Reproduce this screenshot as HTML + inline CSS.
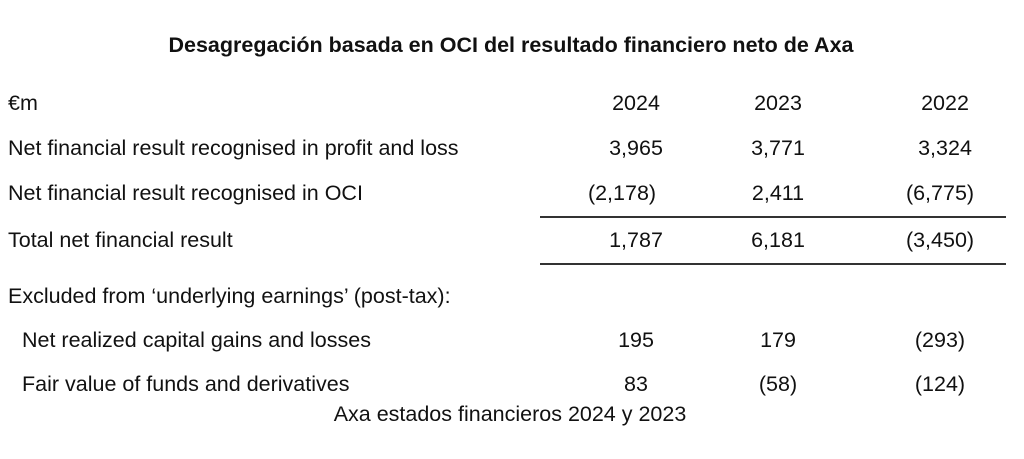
<!DOCTYPE html><html><head><style>
body{margin:0;width:1024px;height:459px;background:#fff;font-family:"Liberation Sans",sans-serif;color:#111;position:relative;overflow:hidden}
div{position:absolute;white-space:nowrap;font-size:21.5px;line-height:24px}
.c{transform:translateX(-50%)}
.t{font-weight:bold;font-size:21.5px}
.l{position:absolute;height:1.5px;background:#333;left:540px;width:466px}
</style></head><body>
<div class="t c" style="left:511px;top:33px">Desagregación basada en OCI del resultado financiero neto de Axa</div>
<div style="left:8px;top:91px">€m</div>
<div class="c" style="left:636px;top:91px">2024</div><div class="c" style="left:778px;top:91px">2023</div><div class="c" style="left:945px;top:91px">2022</div>
<div style="left:8px;top:136px">Net financial result recognised in profit and loss</div>
<div class="c" style="left:636px;top:136px">3,965</div><div class="c" style="left:778px;top:136px">3,771</div><div class="c" style="left:945px;top:136px">3,324</div>
<div style="left:8px;top:181px">Net financial result recognised in OCI</div>
<div class="c" style="left:622px;top:181px">(2,178)</div><div class="c" style="left:778px;top:181px">2,411</div><div class="c" style="left:940px;top:181px">(6,775)</div>
<div class="l" style="top:216px"></div>
<div style="left:8px;top:228px">Total net financial result</div>
<div class="c" style="left:636px;top:228px">1,787</div><div class="c" style="left:778px;top:228px">6,181</div><div class="c" style="left:940px;top:228px">(3,450)</div>
<div class="l" style="top:263px"></div>
<div style="left:8px;top:284px">Excluded from ‘underlying earnings’ (post-tax):</div>
<div style="left:22px;top:328px">Net realized capital gains and losses</div>
<div class="c" style="left:636px;top:328px">195</div><div class="c" style="left:778px;top:328px">179</div><div class="c" style="left:940px;top:328px">(293)</div>
<div style="left:22px;top:372px">Fair value of funds and derivatives</div>
<div class="c" style="left:636px;top:372px">83</div><div class="c" style="left:778px;top:372px">(58)</div><div class="c" style="left:940px;top:372px">(124)</div>
<div class="c" style="left:510px;top:402px">Axa estados financieros 2024 y 2023</div>
</body></html>
